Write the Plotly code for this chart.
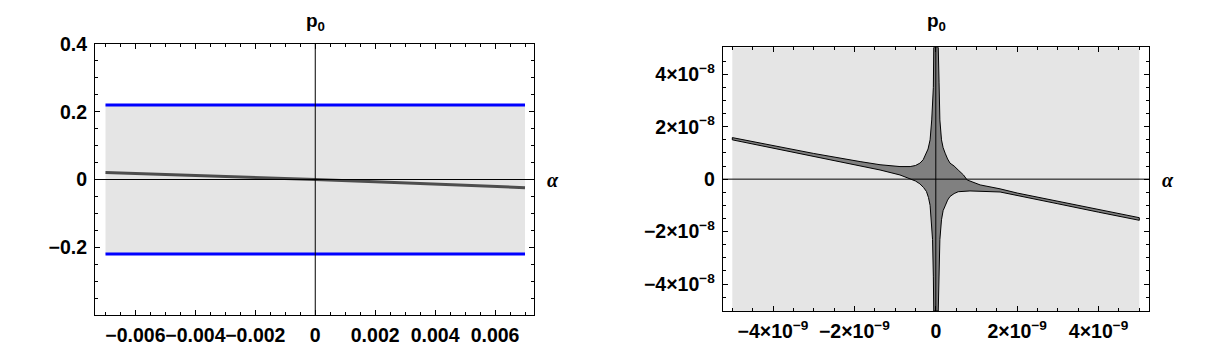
import numpy as np
import plotly.graph_objects as go

# ---------------- left panel ----------------
left_band_alpha = [-0.007, 0.007]
left_band_p = [-0.22, 0.22]

left_curve_alpha = [-0.007, -0.0045, -0.0022, 0.0, 0.002, 0.0045, 0.007]
left_curve_p = [0.021, 0.014, 0.007, 0.0, -0.007, -0.015, -0.024]

left_x_ticks = [-0.006, -0.004, -0.002, 0, 0.002, 0.004, 0.006]
left_x_labels = ["−0.006", "−0.004", "−0.002", "0", "0.002", "0.004", "0.006"]
left_y_ticks = [0.4, 0.2, 0, -0.2]
left_y_labels = ["0.4", "0.2", "0", "−0.2"]

# ---------------- right panel (alpha in 1e-9, p in 1e-8) ----------------
right_region_alpha = [-5.0, 5.0]
right_region_p = [-5.03, 5.03]

# outline of the dark region, going round it
right_shape_alpha = [
    -0.05, -0.06, -0.10, -0.14, -0.19, -0.23, -0.31, -0.39, -0.50, -0.63,
    -0.88, -1.37, -1.86, -3.0, -4.0, -5.0,
    -5.0, -4.0, -3.0, -1.86, -1.37, -0.88, -0.63, -0.50, -0.39, -0.30,
    -0.23, -0.18, -0.14, -0.11, -0.08, -0.06, -0.05,
    0.06, 0.08, 0.10, 0.14, 0.18, 0.23, 0.29, 0.35, 0.45, 0.55, 0.84,
    1.58, 2.0, 3.0, 4.0, 5.0,
    5.0, 4.0, 3.0, 2.0, 1.58, 1.09, 0.77, 0.68, 0.55, 0.45, 0.35, 0.29,
    0.23, 0.18, 0.14, 0.10, 0.08, 0.06,
]
right_shape_p = [
    5.03, 3.5, 2.26, 1.5, 1.15, 0.99, 0.74, 0.61, 0.52, 0.48,
    0.48, 0.55, 0.67, 0.98, 1.28, 1.585,
    1.50, 1.19, 0.88, 0.51, 0.35, 0.16, 0.02, -0.07, -0.18, -0.32,
    -0.47, -0.70, -1.0, -1.55, -2.3, -3.7, -5.03,
    -5.03, -3.7, -2.31, -1.55, -1.2, -1.02, -0.80, -0.66, -0.55, -0.48, -0.45,
    -0.49, -0.63, -0.94, -1.26, -1.57,
    -1.47, -1.16, -0.85, -0.53, -0.37, -0.22, -0.03, 0.16, 0.35, 0.50, 0.61, 0.77,
    0.99, 1.2, 1.5, 2.26, 3.7, 5.03,
]

right_x_ticks = [-4, -2, 0, 2, 4]
right_x_labels = ["−4×10<sup>−9</sup>", "−2×10<sup>−9</sup>", "0",
                  "2×10<sup>−9</sup>", "4×10<sup>−9</sup>"]
right_y_ticks = [4, 2, 0, -2, -4]
right_y_labels = ["4×10<sup>−8</sup>", "2×10<sup>−8</sup>", "0",
                  "−2×10<sup>−8</sup>", "−4×10<sup>−8</sup>"]

XS = 1e-9
YS = 1e-8

# page body has an 8px margin, so the figure is a bit smaller and positions shift by 8px
W, H = 1191, 339


def px_x(v):
    return (v - 8) / W


def px_y(v):
    return 1 - (v - 8) / H


def rect(xs, ys):
    return [xs[0], xs[1], xs[1], xs[0], xs[0]], [ys[0], ys[0], ys[1], ys[1], ys[0]]


fig = go.Figure()

# left: shaded band, bounds, curve
rx, ry = rect(left_band_alpha, left_band_p)
fig.add_trace(go.Scatter(x=rx, y=ry, fill="toself", fillcolor="#E5E5E5",
                         line=dict(width=0), mode="lines", xaxis="x", yaxis="y"))
for pv in left_band_p:
    fig.add_trace(go.Scatter(x=left_band_alpha, y=[pv, pv], mode="lines",
                             line=dict(color="#0000FF", width=3), xaxis="x", yaxis="y"))
fig.add_trace(go.Scatter(x=left_curve_alpha, y=left_curve_p, mode="lines",
                         line=dict(color="#4D4D4D", width=3), xaxis="x", yaxis="y"))

# right: background region and dark shape
rx, ry = rect(right_region_alpha, right_region_p)
fig.add_trace(go.Scatter(x=np.array(rx) * XS, y=np.array(ry) * YS, fill="toself",
                         fillcolor="#E5E5E5", line=dict(width=0), mode="lines",
                         xaxis="x2", yaxis="y2"))
sx = np.array(right_shape_alpha + right_shape_alpha[:1]) * XS
sy = np.array(right_shape_p + right_shape_p[:1]) * YS
fig.add_trace(go.Scatter(x=sx, y=sy, fill="toself", fillcolor="#808080",
                         line=dict(color="black", width=1), mode="lines",
                         xaxis="x2", yaxis="y2"))

tickfont = dict(family="Liberation Sans", size=19.5, color="black", weight="bold")


def frame_axis(domain, rng, tickvals, ticktext, minor_vals, anchor):
    return dict(
        domain=domain, range=rng, anchor=anchor, automargin=False,
        tickmode="array", tickvals=tickvals, ticktext=ticktext, tickangle=0,
        showline=True, linecolor="black", linewidth=1, mirror="ticks",
        ticks="inside", ticklen=5, tickcolor="black", tickwidth=1,
        minor=dict(ticks="inside", ticklen=3, tickcolor="black", tickmode="array",
                   tickvals=minor_vals),
        showgrid=False, zeroline=False, tickfont=tickfont, ticklabelstandoff=3,
    )


fig.update_layout(
    width=W, height=H,
    margin=dict(l=0, r=0, t=0, b=0, autoexpand=False),
    paper_bgcolor="white", plot_bgcolor="white",
    showlegend=False,
    xaxis=frame_axis([px_x(95), px_x(534)], [-0.00735, 0.0073], left_x_ticks, left_x_labels,
                     list(np.arange(-0.007, 0.00701, 0.0005)), "y"),
    yaxis=frame_axis([px_y(315), px_y(44)], [-0.4, 0.4], left_y_ticks, left_y_labels,
                     list(np.arange(-0.4, 0.401, 0.05)), "x"),
    xaxis2=frame_axis([px_x(722.7), px_x(1149.3)], [-5.236e-9, 5.246e-9],
                      [v * XS for v in right_x_ticks], right_x_labels,
                      list(np.arange(-5, 5.01, 0.5) * XS), "y2"),
    yaxis2=frame_axis([px_y(311), px_y(47.3)], [-5.03e-8, 5.03e-8],
                      [v * YS for v in right_y_ticks], right_y_labels,
                      list(np.arange(-5, 5.01, 0.5) * YS), "x2"),
)

# axes through the origin, drawn over the data
for xr, yr in [("x", "y"), ("x2", "y2")]:
    fig.add_shape(type="line", xref=xr, yref=yr + " domain", x0=0, x1=0, y0=0, y1=1,
                  line=dict(color="black", width=1), layer="above")
    fig.add_shape(type="line", xref=xr + " domain", yref=yr, x0=0, x1=1, y0=0, y1=0,
                  line=dict(color="black", width=1), layer="above")

# titles and axis labels
for xc in [315, 936]:
    fig.add_annotation(text="<b>p<sub>0</sub></b>", x=px_x(xc), y=px_y(22),
                       xref="paper", yref="paper", xanchor="center", yanchor="middle",
                       showarrow=False, font=dict(family="Liberation Sans", size=19, color="black"))
for xl in [545, 1160]:
    fig.add_annotation(text="<i>α</i>", x=px_x(xl), y=px_y(180),
                       xref="paper", yref="paper", xanchor="left", yanchor="middle",
                       showarrow=False,
                       font=dict(family="Liberation Serif", size=20, color="black", weight="bold"))

fig.write_html("out.html")
